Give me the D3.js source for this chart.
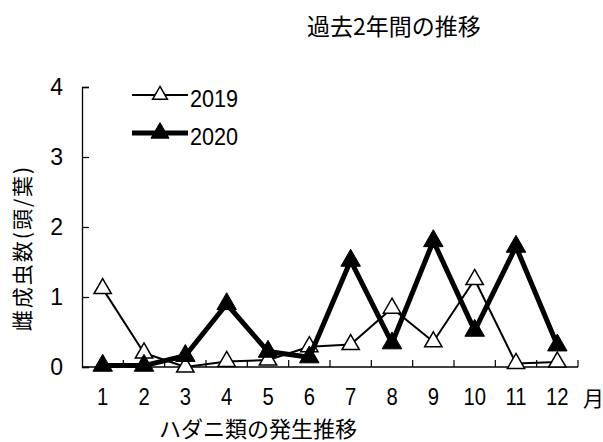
<!DOCTYPE html>
<html>
<head>
<meta charset="utf-8">
<script src="https://cdn.jsdelivr.net/npm/d3@7.9.0/dist/d3.min.js"></script>
<style>
  body { margin: 0; background: #fff; }
  svg { font-family: "Liberation Sans", "Noto Sans CJK JP", sans-serif; }
</style>
</head>
<body>
<svg id="chart" width="603" height="442"></svg>
<script>
const months = ['1', '2', '3', '4', '5', '6', '7', '8', '9', '10', '11', '12'];
const values2019 = [1.12, 0.2, 0.0, 0.08, 0.1, 0.29, 0.32, 0.84, 0.36, 1.25, 0.05, 0.07];
const values2020 = [0.02, 0.02, 0.16, 0.9, 0.22, 0.14, 1.52, 0.34, 1.8, 0.52, 1.72, 0.31];
const yTicks = [0, 1, 2, 3, 4];

const svg = d3.select('#chart');
const plotLeft = 82, plotRight = 578, plotTop = 87, plotBottom = 367;

const x = d3.scaleBand().domain(months).range([plotLeft, plotRight]);
const y = d3.scaleLinear().domain([0, 4]).range([plotBottom, plotTop]);

// narrow digit text
function digits(sel, px, py, anchor, sx) {
  return sel.append('text')
    .attr('transform', `translate(${px},${py}) scale(${sx || 0.88},1)`)
    .attr('text-anchor', anchor || 'start')
    .attr('font-size', 23);
}

// title
svg.append('text')
  .attr('x', 394).attr('y', 35)
  .attr('text-anchor', 'middle')
  .attr('font-family', 'Noto Sans CJK JP')
  .attr('font-size', 23)
  .text('過去2年間の推移');

// y axis, ticks pointing inward
const yAxis = svg.append('g')
  .attr('transform', `translate(${plotLeft},0)`)
  .call(d3.axisLeft(y).tickValues(yTicks).tickSize(-7).tickPadding(19).tickFormat(d3.format('d')));
yAxis.selectAll('text').attr('font-size', 23).attr('fill', '#000');
yAxis.select('.domain').attr('stroke', '#000').attr('stroke-width', 1.3);
yAxis.selectAll('.tick line').attr('stroke', '#000').attr('stroke-width', 1.2);

// x axis: line plus ticks at band boundaries
svg.append('line')
  .attr('x1', plotLeft).attr('x2', plotRight)
  .attr('y1', plotBottom).attr('y2', plotBottom)
  .attr('stroke', '#000').attr('stroke-width', 1.3);
const bounds = months.map(m => x(m)).concat([plotRight]);
svg.append('g').selectAll('line')
  .data(bounds.slice(1))
  .join('line')
  .attr('x1', d => d).attr('x2', d => d)
  .attr('y1', plotBottom).attr('y2', plotBottom - 7)
  .attr('stroke', '#000').attr('stroke-width', 1.2);
const xLabels = svg.append('g');
months.forEach(m => {
  digits(xLabels, x(m) + x.bandwidth() / 2, 405, 'middle').text(m);
});
svg.append('text')
  .attr('x', 583).attr('y', 406)
  .attr('font-family', 'Noto Sans CJK JP')
  .attr('font-size', 21)
  .text('月');

svg.append('text')
  .attr('x', 258).attr('y', 437)
  .attr('text-anchor', 'middle')
  .attr('font-family', 'Noto Sans CJK JP')
  .attr('font-size', 22)
  .text('ハダニ類の発生推移');

svg.append('text')
  .attr('transform', 'translate(30,248) rotate(-90)')
  .attr('text-anchor', 'middle')
  .attr('font-family', 'Noto Sans CJK JP')
  .attr('font-size', 21)
  .attr('letter-spacing', 2)
  .text('雌成虫数(頭/葉)');

const cx = d => x(d) + x.bandwidth() / 2;
const tri = d3.symbol().type(d3.symbolTriangle);

function drawSeries(vals, width, filled, size) {
  const pts = months.map((m, i) => [cx(m), y(vals[i])]);
  svg.append('path')
    .attr('d', d3.line()(pts))
    .attr('fill', 'none')
    .attr('stroke', '#000')
    .attr('stroke-width', width)
    .attr('stroke-linejoin', 'round');
  svg.append('g').selectAll('path')
    .data(pts)
    .join('path')
    .attr('transform', d => `translate(${d[0]},${d[1]})`)
    .attr('d', tri.size(size)())
    .attr('fill', filled ? '#000' : '#fff')
    .attr('stroke', '#000')
    .attr('stroke-width', filled ? 1 : 1.5);
}

drawSeries(values2019, 2, false, 130);
drawSeries(values2020, 5, true, 165);

// legend
function legendItem(yPos, label, width, filled, size) {
  svg.append('line')
    .attr('x1', 132).attr('x2', 188)
    .attr('y1', yPos).attr('y2', yPos)
    .attr('stroke', '#000').attr('stroke-width', width);
  svg.append('path')
    .attr('transform', `translate(160,${yPos})`)
    .attr('d', tri.size(size)())
    .attr('fill', filled ? '#000' : '#fff')
    .attr('stroke', '#000')
    .attr('stroke-width', filled ? 1 : 1.5);
  digits(svg, 190, yPos + 12, 'start', 0.94).text(label);
}
legendItem(95, '2019', 2, false, 95);
legendItem(133, '2020', 5, true, 140);
</script>
</body>
</html>
